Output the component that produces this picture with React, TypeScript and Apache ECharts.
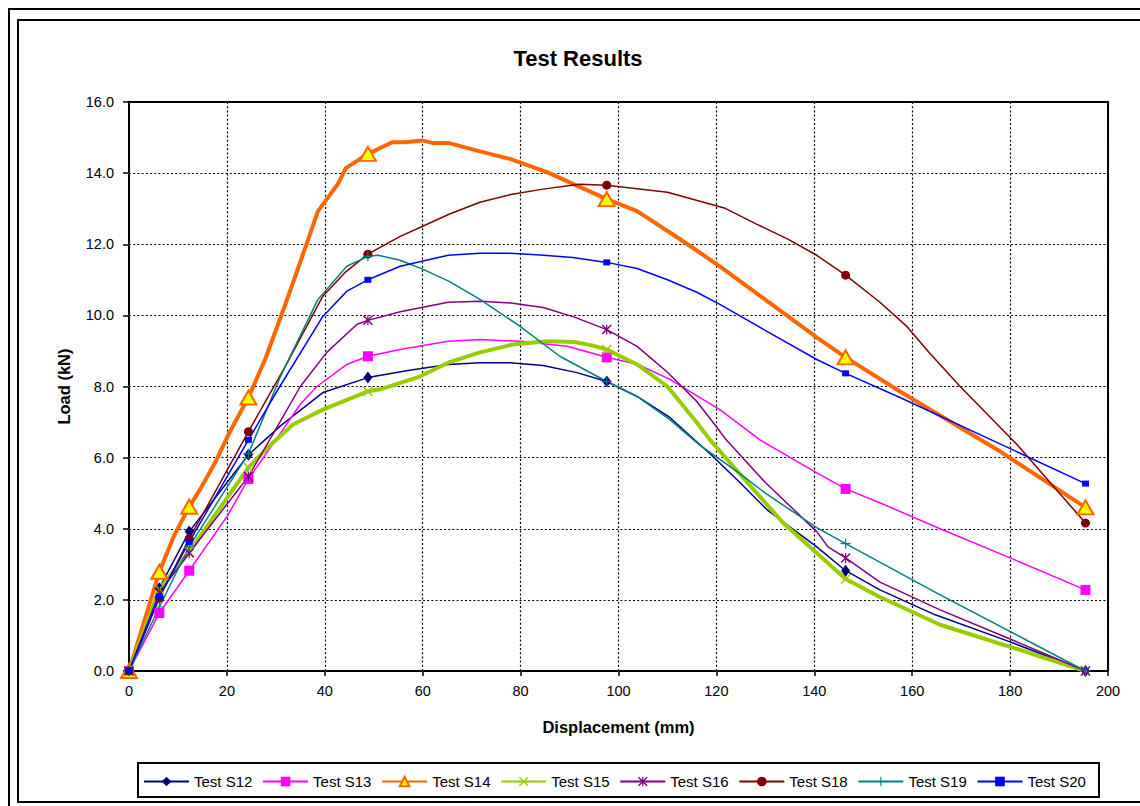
import React, { useEffect, useRef } from "react";
import * as echarts from "echarts";

const seriesNames = ["Test S12", "Test S13", "Test S14", "Test S15", "Test S16", "Test S18", "Test S19", "Test S20"];

const markerDisp = [0, 6.2, 12.3, 24.4, 48.8, 97.6, 146.4, 195.4];

const s12Disp = [0, 6.2, 12.3, 24.4, 31, 39.6, 48.8, 57, 65.2, 71.7, 77.8, 84.6, 91.5, 97.6, 103.8, 110.5, 119.3, 124.8, 130.3, 140.5, 146.4, 153.4, 164.7, 180, 195.4];
const s12Load = [0, 2.33, 3.92, 6.08, 6.9, 7.83, 8.25, 8.45, 8.62, 8.67, 8.67, 8.59, 8.39, 8.14, 7.72, 7.13, 6.03, 5.3, 4.54, 3.49, 2.82, 2.28, 1.58, 0.82, 0];

const s13Disp = [0, 6.2, 12.3, 20, 24.4, 30, 35, 38.4, 44.5, 48.8, 55.4, 65.2, 71.7, 79.9, 89.5, 97.6, 104, 110.5, 120.7, 128.9, 140.5, 146.4, 153.4, 165.7, 180, 195.4];
const s13Load = [0, 1.63, 2.82, 4.34, 5.4, 6.5, 7.5, 8.0, 8.62, 8.85, 9.04, 9.27, 9.32, 9.27, 9.13, 8.82, 8.62, 8.2, 7.35, 6.5, 5.57, 5.12, 4.73, 4.0, 3.18, 2.28];

const s14Disp = [0, 6.2, 9.2, 12.3, 14.5, 17.6, 20.5, 24.4, 27.8, 31.9, 35, 38.6, 42.7, 44.3, 48.8, 53.8, 56.5, 59.8, 62, 65.2, 71.5, 77.8, 85.4, 91.5, 97.6, 103.8, 112.6, 120.7, 130.6, 140.5, 146.4, 157.5, 177.3, 195.4];
const s14Load = [0, 2.79, 3.8, 4.62, 5.1, 5.86, 6.7, 7.69, 8.76, 10.3, 11.5, 12.93, 13.7, 14.14, 14.54, 14.87, 14.87, 14.92, 14.85, 14.85, 14.62, 14.4, 14.03, 13.65, 13.27, 12.93, 12.14, 11.38, 10.38, 9.38, 8.82, 7.86, 6.23, 4.6];

const s15Disp = [0, 6.2, 12.3, 24.4, 29.4, 33.5, 39.6, 48.8, 51.3, 59.4, 65.2, 71.7, 78.4, 85.4, 91, 94.8, 97.6, 103.8, 110, 116, 118.7, 126, 133.6, 140.5, 146.4, 153.4, 165.7, 180, 195.4];
const s15Load = [0, 2.3, 3.35, 5.72, 6.42, 6.93, 7.35, 7.86, 7.92, 8.28, 8.67, 8.96, 9.18, 9.27, 9.25, 9.15, 9.04, 8.62, 8.0, 6.99, 6.5, 5.35, 4.17, 3.32, 2.59, 2.08, 1.3, 0.68, 0];

const s16Disp = [0, 6.2, 12.3, 24.4, 30, 35, 40.4, 46.6, 48.8, 55.4, 65.2, 71.7, 78, 84.6, 91, 97.6, 103.8, 110, 116, 120, 122, 130, 140.5, 142.8, 146.4, 153.4, 165.7, 180, 195.4];
const s16Load = [0, 2.2, 3.32, 5.47, 6.8, 8.0, 8.96, 9.75, 9.86, 10.1, 10.37, 10.4, 10.35, 10.22, 9.95, 9.6, 9.13, 8.4, 7.58, 6.87, 6.5, 5.3, 3.92, 3.49, 3.18, 2.5, 1.72, 0.9, 0];

const s18Disp = [0, 6.2, 12.3, 24.4, 31.9, 39.6, 44.1, 48.8, 55.4, 59.9, 65.5, 71.7, 78, 84.6, 92, 97.6, 110, 121.8, 128.3, 134.5, 140.5, 146.4, 153.4, 158.9, 163.5, 169.8, 181.4, 195.4];
const s18Load = [0, 2.05, 3.72, 6.73, 8.56, 10.54, 11.2, 11.72, 12.22, 12.5, 12.85, 13.18, 13.4, 13.55, 13.69, 13.66, 13.46, 13.01, 12.56, 12.15, 11.69, 11.13, 10.37, 9.69, 8.95, 8.0, 6.37, 4.16];

const s19Disp = [0, 6.2, 12.3, 24.4, 31, 38.6, 44.5, 48.8, 50.9, 55.4, 60, 65.5, 71.7, 79.9, 88, 97.6, 103.8, 110.5, 116.6, 124.8, 130, 140.5, 146.4, 165.7, 195.4];
const s19Load = [0, 1.8, 3.5, 6.11, 8.3, 10.45, 11.38, 11.66, 11.69, 11.55, 11.3, 10.95, 10.45, 9.69, 8.85, 8.14, 7.72, 7.07, 6.35, 5.55, 5.0, 4.03, 3.58, 2.14, 0];

const s20Disp = [0, 6.2, 12.3, 24.4, 30.8, 39.6, 44.5, 48.8, 55.4, 65.2, 71.7, 77.8, 84, 90.7, 97.6, 103.8, 110, 116, 120.7, 130.6, 140.5, 146.4, 157.5, 195.4];
const s20Load = [0, 2.1, 3.63, 6.5, 8.0, 9.97, 10.68, 11.0, 11.38, 11.69, 11.75, 11.75, 11.7, 11.63, 11.49, 11.32, 11.0, 10.65, 10.31, 9.53, 8.76, 8.37, 7.69, 5.27];

const FONT = "'Liberation Sans', Arial, sans-serif";

const xSymbol = "path://M0,1 L1,0 L5,4 L9,0 L10,1 L6,5 L10,9 L9,10 L5,6 L1,10 L0,9 L4,5 Z";
const starSymbol = "path://M0,1 L1,0 L5,4 L9,0 L10,1 L6,5 L10,9 L9,10 L5,6 L1,10 L0,9 L4,5 Z M4.4,0 L5.6,0 L5.6,10 L4.4,10 Z";
const plusSymbol = "path://M4.4,0 L5.6,0 L5.6,4.4 L10,4.4 L10,5.6 L5.6,5.6 L5.6,10 L4.4,10 L4.4,5.6 L0,5.6 L0,4.4 L4.4,4.4 Z";

function buildData(disp: number[], load: number[]) {
  return disp.map((x, i) =>
    markerDisp.includes(x) ? { value: [x, load[i]] } : { value: [x, load[i]], symbol: "none" }
  );
}

export default function App() {
  const ref = useRef<HTMLDivElement>(null);

  useEffect(() => {
    if (!ref.current) return;
    const chart = echarts.init(ref.current, null, { renderer: "svg" });

    const styles = [
      { disp: s12Disp, load: s12Load, color: "#000080", width: 1.5, symbol: "diamond", size: [9, 12] },
      { disp: s13Disp, load: s13Load, color: "#FF00FF", width: 1.5, symbol: "rect", size: 10 },
      { disp: s14Disp, load: s14Load, color: "#FF6600", width: 4, symbol: "triangle", size: [16, 14], fill: "#FFFF00", border: 2 },
      { disp: s15Disp, load: s15Load, color: "#99CC00", width: 4, symbol: xSymbol, size: 10 },
      { disp: s16Disp, load: s16Load, color: "#800080", width: 1.5, symbol: starSymbol, size: 10 },
      { disp: s18Disp, load: s18Load, color: "#800000", width: 1.5, symbol: "circle", size: 9 },
      { disp: s19Disp, load: s19Load, color: "#008080", width: 1.5, symbol: plusSymbol, size: 10 },
      { disp: s20Disp, load: s20Load, color: "#0000FF", width: 1.5, symbol: "rect", size: [7, 6] },
    ];

    const series = styles.map((s, i) => ({
      name: seriesNames[i],
      type: "line",
      data: buildData(s.disp, s.load),
      symbol: s.symbol,
      symbolSize: s.size,
      showAllSymbol: true,
      lineStyle: { color: s.color, width: s.width },
      itemStyle: s.fill
        ? { color: s.fill, borderColor: s.color, borderWidth: s.border }
        : { color: s.color, borderWidth: 0 },
      emphasis: { disabled: true },
    }));

    chart.setOption({
      animation: false,
      backgroundColor: "#ffffff",
      textStyle: { fontFamily: FONT },
      grid: {
        left: 129,
        right: 32,
        top: 102,
        bottom: 135,
        show: true,
        borderColor: "#000",
        borderWidth: 2,
        containLabel: false,
      },
      legend: {
        data: seriesNames,
        left: 143,
        top: 774,
        padding: 0,
        itemWidth: 45,
        itemHeight: 12,
        itemGap: 9.7,
        textStyle: { fontFamily: FONT, fontSize: 15, color: "#000" },
        selectedMode: false,
      },
      xAxis: {
        type: "value",
        min: 0,
        max: 200,
        interval: 20,
        name: "Displacement (mm)",
        nameLocation: "middle",
        nameGap: 47,
        nameTextStyle: { fontFamily: FONT, fontSize: 16.5, fontWeight: "bold", color: "#000" },
        axisLine: { show: true, onZero: false, lineStyle: { color: "#000", width: 2 } },
        axisTick: { show: true, inside: false, length: 5, lineStyle: { color: "#000", width: 1.5 } },
        axisLabel: { fontFamily: FONT, fontSize: 14.5, color: "#000", margin: 12 },
        splitLine: { show: true, lineStyle: { color: "#000", width: 1.2, type: [2, 2.2] } },
      },
      yAxis: {
        type: "value",
        min: 0,
        max: 16,
        interval: 2,
        name: "Load (kN)",
        nameLocation: "middle",
        nameGap: 57,
        nameTextStyle: { fontFamily: FONT, fontSize: 16.5, fontWeight: "bold", color: "#000" },
        axisLine: { show: true, onZero: false, lineStyle: { color: "#000", width: 2 } },
        axisTick: { show: true, inside: false, length: 6, lineStyle: { color: "#000", width: 1.5 } },
        axisLabel: {
          fontFamily: FONT,
          fontSize: 14.5,
          color: "#000",
          margin: 15,
          formatter: (v: number) => v.toFixed(1),
        },
        splitLine: { show: true, lineStyle: { color: "#000", width: 1.2, type: [2, 2.2] } },
      },
      graphic: [
        {
          type: "rect",
          shape: { x: 9, y: 9, width: 1200, height: 900 },
          style: { fill: "none", stroke: "#000", lineWidth: 2 },
          silent: true,
        },
        {
          type: "rect",
          shape: { x: 18, y: 20, width: 1200, height: 782 },
          style: { fill: "none", stroke: "#000", lineWidth: 2 },
          silent: true,
        },
        {
          type: "rect",
          shape: { x: 138, y: 763, width: 961, height: 34 },
          style: { fill: "none", stroke: "#000", lineWidth: 2 },
          silent: true,
        },
        {
          type: "text",
          x: 578,
          y: 58,
          style: {
            text: "Test Results",
            fill: "#000",
            font: `bold 22px ${FONT}`,
            align: "center",
            verticalAlign: "middle",
          },
          silent: true,
        },
      ],
      series,
    });

    return () => chart.dispose();
  }, []);

  return (
    <div
      ref={ref}
      style={{ position: "absolute", left: 0, top: 0, width: 1140, height: 806, background: "#fff" }}
    />
  );
}
